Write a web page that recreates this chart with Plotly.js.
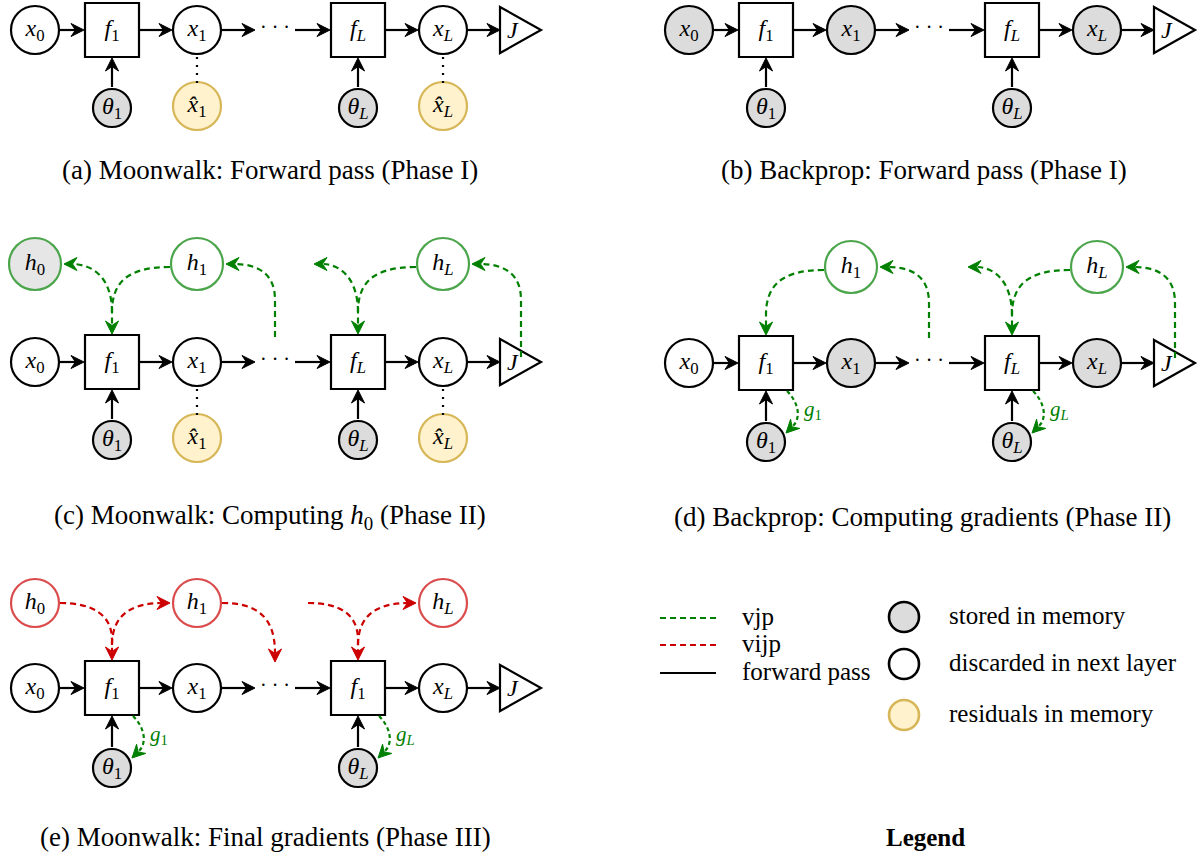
<!DOCTYPE html>
<html><head><meta charset="utf-8">
<script src="https://cdn.plot.ly/plotly-3.0.1.min.js"></script>
<style>html,body{margin:0;padding:0;background:#fff;}#chart{width:1203px;height:856px;}</style>
</head><body><div id="chart"></div>
<script>
// ---------------- data (labels & node states) ----------------
const PANEL_IDS = ['a', 'b', 'c', 'd', 'e'];
const CAPTIONS = [
  '(a) Moonwalk: Forward pass (Phase I)',
  '(b) Backprop: Forward pass (Phase I)',
  '(c) Moonwalk: Computing <i>h</i><sub>0</sub> (Phase II)',
  '(d) Backprop: Computing gradients (Phase II)',
  '(e) Moonwalk: Final gradients (Phase III)'
];
const X_LABELS = ['<i>x</i><sub>0</sub>', '<i>x</i><sub>1</sub>', '<i>x</i><sub><i>L</i></sub>'];
const F_LABELS = {
  a: ['<i>f</i><sub>1</sub>', '<i>f</i><sub><i>L</i></sub>'],
  b: ['<i>f</i><sub>1</sub>', '<i>f</i><sub><i>L</i></sub>'],
  c: ['<i>f</i><sub>1</sub>', '<i>f</i><sub><i>L</i></sub>'],
  d: ['<i>f</i><sub>1</sub>', '<i>f</i><sub><i>L</i></sub>'],
  e: ['<i>f</i><sub>1</sub>', '<i>f</i><sub>1</sub>']
};
const THETA_LABELS = ['<i>θ</i><sub>1</sub>', '<i>θ</i><sub><i>L</i></sub>'];
const RESID_LABELS = ['<i>x̂</i><sub>1</sub>', '<i>x̂</i><sub><i>L</i></sub>'];
const H_LABELS = ['<i>h</i><sub>0</sub>', '<i>h</i><sub>1</sub>', '<i>h</i><sub><i>L</i></sub>'];
const G_LABELS = ['<i>g</i><sub>1</sub>', '<i>g</i><sub><i>L</i></sub>'];
const J_LABEL = '<i>J</i>';
const DOTS_LABEL = '· · ·';
const X_STATE = {
  a: ['discarded', 'discarded', 'discarded'],
  b: ['stored', 'stored', 'stored'],
  c: ['discarded', 'discarded', 'discarded'],
  d: ['discarded', 'stored', 'stored'],
  e: ['discarded', 'discarded', 'discarded']
};
const H_STATE = {
  c: ['stored', 'discarded', 'discarded'],
  d: [null, 'discarded', 'discarded'],
  e: ['discarded', 'discarded', 'discarded']
};
const H_FLOW = { c: 'vjp', d: 'vjp', e: 'vijp' };
const SHOW_RESIDUALS = { a: true, b: false, c: true, d: false, e: false };
const SHOW_GRADS = { a: false, b: false, c: false, d: true, e: true };
const LEGEND_LINES = ['vjp', 'vijp', 'forward pass'];
const LEGEND_NODE_STATES = ['stored', 'discarded', 'residual'];
const LEGEND_NODE_TEXT = ['stored in memory', 'discarded in next layer', 'residuals in memory'];
const LEGEND_TITLE = '<b>Legend</b>';

// ---------------- geometry & style ----------------
const COL = { x0: 35, f1: 112, x1: 197, dots: 275, fL: 358, xL: 443, J: 500 };
const GEO = {
  a: { dx: 0, my: 30, by: 108, cx: 270, cy: 170 },
  b: { dx: 654, my: 30, by: 108, cx: 924, cy: 170 },
  c: { dx: 0, hy: 264, my: 362, by: 440, cx: 270, cy: 517 },
  d: { dx: 654, hy: 267, my: 363, by: 442, cx: 922, cy: 517 },
  e: { dx: 0, hy: 603, my: 688, by: 768, cx: 265, cy: 837 }
};
const R = { x: 24, box: 27, th: 19, res: 24, h: { vjp: 27, vijp: 25 }, leg: 16 };
const FILL = { stored: '#dcdcdc', discarded: '#ffffff', residual: '#fff2cc' };
const STROKE = { stored: '#000000', discarded: '#000000', residual: '#d6b656' };
const FLOW_COLOR = { vjp: '#008000', vijp: '#cc0000', 'forward pass': '#000000' };
const SERIF = 'Liberation Serif';
const DASH = '6px,4px';
const LW = 2.2;

const shapes = [];
const annotations = [];
const traces = [];

function lineShape(x0, y0, x1, y1, color, dash) {
  return { type: 'line', xref: 'x', yref: 'y', x0, y0, x1, y1, line: { color, width: LW, dash: dash || 'solid' } };
}
function pathShape(d, color, dash, fill) {
  return { type: 'path', xref: 'x', yref: 'y', path: d, fillcolor: fill || 'rgba(0,0,0,0)', line: { color, width: LW, dash: dash || 'solid' } };
}
function head(tx, ty, ux, uy, color) {
  const L = 13, W = 6.5;
  const nx = -uy, ny = ux;
  const b1x = tx - L * ux + W * nx, b1y = ty - L * uy + W * ny;
  const b2x = tx - L * ux - W * nx, b2y = ty - L * uy - W * ny;
  const kx = tx - 0.66 * L * ux, ky = ty - 0.66 * L * uy;
  return { type: 'path', xref: 'x', yref: 'y',
    path: `M${tx},${ty} L${b1x},${b1y} L${kx},${ky} L${b2x},${b2y} Z`,
    fillcolor: color, line: { color, width: 1 } };
}
function arrow(x0, y0, x1, y1, color) {
  const len = Math.hypot(x1 - x0, y1 - y0), ux = (x1 - x0) / len, uy = (y1 - y0) / len;
  shapes.push(lineShape(x0, y0, x1 - 8 * ux, y1 - 8 * uy, color));
  shapes.push(head(x1, y1, ux, uy, color));
}

function nodeTrace(xs, ys, labels, fills, strokes, sizes, symbol) {
  return {
    type: 'scatter', mode: 'markers+text', x: xs, y: ys, text: labels,
    textposition: 'middle center', cliponaxis: false, hoverinfo: 'skip',
    textfont: { family: SERIF, size: 24, color: '#000' },
    marker: { symbol: symbol || 'circle', size: sizes, color: fills, line: { color: strokes, width: LW } }
  };
}

PANEL_IDS.forEach((p, pi) => {
  const g = GEO[p];
  const mx = c => COL[c] + g.dx;
  const my = g.my, by = g.by;

  // forward chain edges
  arrow(mx('x0') + R.x + 1, my, mx('f1') - R.box - 1, my, '#000');
  arrow(mx('f1') + R.box + 1, my, mx('x1') - R.x - 1, my, '#000');
  arrow(mx('x1') + R.x + 1, my, mx('dots') - 20, my, '#000');
  arrow(mx('dots') + 20, my, mx('fL') - R.box - 1, my, '#000');
  arrow(mx('fL') + R.box + 1, my, mx('xL') - R.x - 1, my, '#000');
  arrow(mx('xL') + R.x + 1, my, mx('J'), my, '#000');
  arrow(mx('f1'), by - R.th - 2, mx('f1'), my + R.box + 1, '#000');
  arrow(mx('fL'), by - R.th - 2, mx('fL'), my + R.box + 1, '#000');
  annotations.push({ x: mx('dots'), y: my - 3, xref: 'x', yref: 'y', text: DOTS_LABEL, showarrow: false,
    font: { family: SERIF, size: 20, color: '#000' } });

  // J triangle
  shapes.push(pathShape(`M${mx('J')},${my - 23} L${mx('J') + 41},${my} L${mx('J')},${my + 23} Z`, '#000', 'solid', '#ffffff'));
  annotations.push({ x: mx('J') + 13, y: my, xref: 'x', yref: 'y', text: J_LABEL, showarrow: false,
    font: { family: SERIF, size: 24, color: '#000' } });

  // residual dotted links
  if (SHOW_RESIDUALS[p]) {
    shapes.push(lineShape(mx('x1'), my + R.x + 3, mx('x1'), by - R.res - 1, '#000', '2px,6px'));
    shapes.push(lineShape(mx('xL'), my + R.x + 3, mx('xL'), by - R.res - 1, '#000', '2px,6px'));
  }

  // hidden-state flows
  if (H_FLOW[p]) {
    const flow = H_FLOW[p], col = FLOW_COLOR[flow], rH = R.h[flow], hy = g.hy;
    const pairs = [
      { f: 'f1', h: 'x1', prev: H_STATE[p][0] ? 'x0' : null, next: 'dots' },
      { f: 'fL', h: 'xL', prev: null, next: 'J' }
    ];
    pairs.forEach((pr, k) => {
      const fx = mx(pr.f), hx = mx(pr.h), top = my - R.box - 1;
      if (flow === 'vjp') {
        shapes.push(pathShape(`M${hx - rH},${hy + 3} C${fx + 16},${hy + 3} ${fx},${hy + 18} ${fx},${hy + 48} L${fx},${top - 8}`, col, DASH));
        shapes.push(head(fx, top, 0, 1, col));
        if (pr.prev || k === 1) {
          const tip = pr.prev ? mx(pr.prev) + rH + 2 : fx - 44;
          shapes.push(pathShape(`M${fx},${hy + 48} C${fx},${hy + 24} ${fx - 10},${hy + 2} ${tip + 10},${hy}`, col, DASH));
          shapes.push(head(tip, hy, -1, 0, col));
        }
        const xs = pr.next === 'dots' ? mx('dots') : mx('J') + 21;
        const ys = pr.next === 'dots' ? my - 25 : my - 5;
        shapes.push(pathShape(`M${xs},${ys} L${xs},${hy + 36} C${xs},${hy + 12} ${xs - 14},${hy} ${hx + rH + 10},${hy}`, col, DASH));
        shapes.push(head(hx + rH + 2, hy, -1, 0, col));
      } else {
        const sx = pr.prev ? mx(pr.prev) + rH : fx - 50;
        shapes.push(pathShape(`M${sx},${hy} C${sx + 33},${hy} ${fx},${hy + 12} ${fx},${hy + 37} L${fx},${top - 8}`, col, DASH));
        shapes.push(head(fx, top, 0, 1, col));
        shapes.push(pathShape(`M${fx},${hy + 42} C${fx},${hy + 15} ${fx + 16},${hy} ${hx - rH - 10},${hy}`, col, DASH));
        shapes.push(head(hx - rH - 2, hy, 1, 0, col));
        if (pr.next === 'dots') {
          const dxp = mx('dots');
          shapes.push(pathShape(`M${hx + rH},${hy} C${hx + rH + 33},${hy} ${dxp},${hy + 12} ${dxp},${hy + 50}`, col, DASH));
          shapes.push(head(dxp, hy + 59, 0, 1, col));
        }
      }
    });
    // h nodes
    const hx = [], hyArr = [], hl = [], hf = [], hs = [], hz = [];
    ['x0', 'x1', 'xL'].forEach((c, i) => {
      const st = H_STATE[p][i];
      if (!st) return;
      hx.push(mx(c)); hyArr.push(hy); hl.push(H_LABELS[i]); hf.push(FILL[st]); hs.push(col); hz.push(2 * rH - 2);
    });
    traces.push(nodeTrace(hx, hyArr, hl, hf, hs, hz));
  }

  // gradient arrows
  if (SHOW_GRADS[p]) {
    ['f1', 'fL'].forEach((f, i) => {
      const fx = mx(f), col = FLOW_COLOR.vjp;
      shapes.push(pathShape(`M${fx + 21},${my + 28} C${fx + 33},${my + 40} ${fx + 35},${my + 55} ${fx + 27},${my + 63}`, col, '4px,3px'));
      shapes.push(head(fx + 20, my + 70, -0.7071, 0.7071, col));
      annotations.push({ x: fx + 47, y: my + 47, xref: 'x', yref: 'y', text: G_LABELS[i], showarrow: false,
        font: { family: SERIF, size: 21, color: col } });
    });
  }

  // forward-chain nodes
  const xs = ['x0', 'x1', 'xL'].map(mx);
  traces.push(nodeTrace(xs, [my, my, my], X_LABELS, X_STATE[p].map(s => FILL[s]), X_STATE[p].map(s => STROKE[s]), 2 * R.x));
  traces.push(nodeTrace([mx('f1'), mx('fL')], [my, my], F_LABELS[p], '#ffffff', '#000000', 2 * R.box, 'square'));
  traces.push(nodeTrace([mx('f1'), mx('fL')], [by, by], THETA_LABELS, FILL.stored, STROKE.stored, 2 * R.th));
  if (SHOW_RESIDUALS[p]) {
    traces.push(nodeTrace([mx('x1'), mx('xL')], [by - 2, by - 2], RESID_LABELS, FILL.residual, STROKE.residual, 2 * R.res));
  }

  annotations.push({ x: g.cx, y: g.cy, xref: 'x', yref: 'y', text: CAPTIONS[pi], showarrow: false,
    font: { family: SERIF, size: 27, color: '#000' } });
});

// legend
const LEG = { lx0: 660, lx1: 716, tx: 740, ly: [618, 645, 673], cx: 904, ntx: 947, ny: [617, 664, 715], title: [925, 837] };
LEGEND_LINES.forEach((name, i) => {
  shapes.push(lineShape(LEG.lx0, LEG.ly[i], LEG.lx1, LEG.ly[i], FLOW_COLOR[name], name === 'forward pass' ? 'solid' : DASH));
  annotations.push({ x: LEG.tx, y: LEG.ly[i] - 2, xref: 'x', yref: 'y', xanchor: 'left', text: name, showarrow: false,
    font: { family: SERIF, size: 25, color: '#000' } });
});
traces.push({
  type: 'scatter', mode: 'markers', x: LEGEND_NODE_STATES.map(() => LEG.cx), y: LEG.ny, hoverinfo: 'skip',
  marker: { size: 2 * R.leg - 2, color: LEGEND_NODE_STATES.map(s => FILL[s]), line: { width: 2.6, color: LEGEND_NODE_STATES.map(s => STROKE[s]) } }
});
LEGEND_NODE_TEXT.forEach((t, i) => {
  annotations.push({ x: LEG.ntx, y: LEG.ny[i] - 2, xref: 'x', yref: 'y', xanchor: 'left', text: t, showarrow: false,
    font: { family: SERIF, size: 25, color: '#000' } });
});
annotations.push({ x: LEG.title[0], y: LEG.title[1], xref: 'x', yref: 'y', text: LEGEND_TITLE, showarrow: false,
  font: { family: SERIF, size: 25, color: '#000' } });

const layout = {
  width: 1203, height: 856, margin: { l: 0, r: 0, t: 0, b: 0, pad: 0 },
  paper_bgcolor: '#ffffff', plot_bgcolor: '#ffffff', showlegend: false, hovermode: false,
  font: { family: SERIF, color: '#000' },
  xaxis: { range: [0, 1203], visible: false, fixedrange: true },
  yaxis: { range: [856, 0], visible: false, fixedrange: true },
  shapes, annotations
};
Plotly.newPlot('chart', traces, layout, { staticPlot: true, displayModeBar: false });
</script>
</body></html>
